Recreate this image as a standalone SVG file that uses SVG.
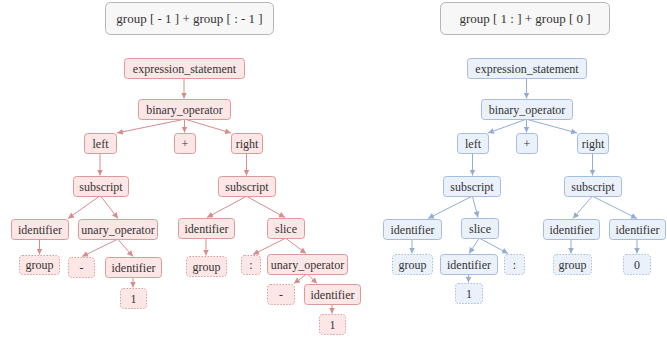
<svg xmlns="http://www.w3.org/2000/svg" width="667" height="340" viewBox="0 0 667 340">
<style>
text{font-family:"Liberation Serif","Times New Roman",serif;font-size:12px;fill:#333;text-anchor:middle;dominant-baseline:central}
.title text{font-size:13px}
.title rect{fill:#f7f7f7;stroke:#b5b5b5;stroke-width:1}
.r rect{fill:#fde6e6;stroke:#dc9a9a;stroke-width:1}
.b rect{fill:#eaf1fb;stroke:#a6bde0;stroke-width:1}
.leaf rect{stroke-dasharray:1.5 1.5}
.er line{stroke:#d98c8c;stroke-width:1;marker-end:url(#ar)}
.eb line{stroke:#92add8;stroke-width:1;marker-end:url(#ab)}
</style>
<defs>
<marker id="ar" viewBox="0 0 6 6" refX="6" refY="3" markerWidth="6" markerHeight="6" markerUnits="userSpaceOnUse" orient="auto"><path d="M0,0 L6,3 L0,6 z" fill="#d98c8c"/></marker>
<marker id="ab" viewBox="0 0 6 6" refX="6" refY="3" markerWidth="6" markerHeight="6" markerUnits="userSpaceOnUse" orient="auto"><path d="M0,0 L6,3 L0,6 z" fill="#92add8"/></marker>
</defs>
<rect width="667" height="340" fill="#fff"/>

<g id="title-left" class="title"><rect x="105.5" y="2.5" width="168" height="32" rx="5"/><text x="189.5" y="18.5">group [ - 1 ] + group [ : - 1 ]</text></g>
<g id="title-right" class="title"><rect x="440.5" y="2.5" width="169" height="32" rx="5"/><text x="525" y="18.5">group [ 1 : ] + group [ 0 ]</text></g>

<g id="edges-left" class="er">
<line x1="184" y1="78" x2="184" y2="98.5"/>
<line x1="183" y1="119.5" x2="117" y2="133"/>
<line x1="184.5" y1="119.5" x2="184.5" y2="132.5"/>
<line x1="186" y1="119.5" x2="231" y2="133"/>
<line x1="100" y1="153.5" x2="100" y2="175.5"/>
<line x1="246.5" y1="153.5" x2="246.5" y2="175.5"/>
<line x1="99" y1="196.5" x2="68" y2="218.5"/>
<line x1="101" y1="196.5" x2="118" y2="218.5"/>
<line x1="39.5" y1="239.5" x2="39.5" y2="254.5"/>
<line x1="117" y1="239.5" x2="82" y2="256.5"/>
<line x1="118" y1="239.5" x2="133" y2="256.5"/>
<line x1="133" y1="277.5" x2="133" y2="287.5"/>
<line x1="246" y1="196.5" x2="207" y2="217.5"/>
<line x1="247" y1="196.5" x2="285" y2="217.5"/>
<line x1="206" y1="238.5" x2="206" y2="255.5"/>
<line x1="285" y1="238.5" x2="253" y2="254.5"/>
<line x1="286" y1="238.5" x2="306" y2="253.5"/>
<line x1="306" y1="274.5" x2="294" y2="283.5"/>
<line x1="308" y1="274.5" x2="317" y2="283.5"/>
<line x1="332" y1="304.5" x2="332" y2="313.5"/>
</g>

<g id="edges-right" class="eb">
<line x1="526.5" y1="78" x2="526.5" y2="98.5"/>
<line x1="525.5" y1="119.5" x2="488" y2="133"/>
<line x1="526.5" y1="119.5" x2="526.5" y2="132.5"/>
<line x1="527.5" y1="119.5" x2="577" y2="133"/>
<line x1="472.5" y1="153.5" x2="472.5" y2="175.5"/>
<line x1="592.5" y1="153.5" x2="592.5" y2="175.5"/>
<line x1="471.5" y1="196.5" x2="428" y2="218.5"/>
<line x1="472.5" y1="196.5" x2="478" y2="217.5"/>
<line x1="412" y1="239.5" x2="412" y2="253.5"/>
<line x1="479" y1="238.5" x2="469" y2="253.5"/>
<line x1="480" y1="238.5" x2="508" y2="253.5"/>
<line x1="468.5" y1="274.5" x2="468.5" y2="282.5"/>
<line x1="592" y1="196.5" x2="573" y2="218.5"/>
<line x1="593" y1="196.5" x2="637" y2="218.5"/>
<line x1="571" y1="239.5" x2="571" y2="253.5"/>
<line x1="637" y1="239.5" x2="637" y2="253.5"/>
</g>

<g id="L-expression_statement" class="r"><rect x="124.5" y="58.5" width="120" height="20" rx="3"/><text x="184.5" y="68.5">expression_statement</text></g>
<g id="L-binary_operator" class="r"><rect x="138.5" y="99.5" width="92" height="20" rx="3"/><text x="184.5" y="109.5">binary_operator</text></g>
<g id="L-left" class="r"><rect x="84.5" y="133.5" width="32" height="20" rx="3"/><text x="100.5" y="143.5">left</text></g>
<g id="L-plus" class="r"><rect x="174.5" y="133.5" width="21" height="20" rx="3"/><text x="185" y="143.5">+</text></g>
<g id="L-right" class="r"><rect x="231.5" y="133.5" width="31" height="20" rx="3"/><text x="247" y="143.5">right</text></g>
<g id="L-subscript1" class="r"><rect x="73.5" y="176.5" width="55" height="20" rx="3"/><text x="101" y="186.5">subscript</text></g>
<g id="L-subscript2" class="r"><rect x="218.5" y="176.5" width="57" height="20" rx="3"/><text x="247" y="186.5">subscript</text></g>
<g id="L-identifier1" class="r"><rect x="11.5" y="219.5" width="57" height="20" rx="3"/><text x="40" y="229.5">identifier</text></g>
<g id="L-unary_operator1" class="r"><rect x="78.5" y="219.5" width="79" height="20" rx="3"/><text x="118" y="229.5">unary_operator</text></g>
<g id="L-group1" class="r leaf"><rect x="19.5" y="255.5" width="40" height="19" rx="3"/><text x="39.5" y="265">group</text></g>
<g id="L-minus1" class="r leaf"><rect x="68.5" y="257.5" width="26" height="20" rx="3"/><text x="81.5" y="267.5">-</text></g>
<g id="L-identifier2" class="r"><rect x="105.5" y="257.5" width="56" height="20" rx="3"/><text x="133.5" y="267.5">identifier</text></g>
<g id="L-one1" class="r leaf"><rect x="120.5" y="288.5" width="26" height="20" rx="3"/><text x="133.5" y="298.5">1</text></g>
<g id="L-identifier3" class="r"><rect x="178.5" y="218.5" width="56" height="20" rx="3"/><text x="206.5" y="228.5">identifier</text></g>
<g id="L-slice" class="r"><rect x="267.5" y="218.5" width="37" height="20" rx="3"/><text x="286" y="228.5">slice</text></g>
<g id="L-group2" class="r leaf"><rect x="186.5" y="256.5" width="40" height="20" rx="3"/><text x="206.5" y="266.5">group</text></g>
<g id="L-colon" class="r leaf"><rect x="241.5" y="255.5" width="19" height="19" rx="3"/><text x="251" y="265">:</text></g>
<g id="L-unary_operator2" class="r"><rect x="267.5" y="254.5" width="80" height="20" rx="3"/><text x="307.5" y="264.5">unary_operator</text></g>
<g id="L-minus2" class="r leaf"><rect x="267.5" y="284.5" width="27" height="20" rx="3"/><text x="281" y="294.5">-</text></g>
<g id="L-identifier4" class="r"><rect x="304.5" y="284.5" width="56" height="20" rx="3"/><text x="332.5" y="294.5">identifier</text></g>
<g id="L-one2" class="r leaf"><rect x="319.5" y="314.5" width="26" height="20" rx="3"/><text x="332.5" y="324.5">1</text></g>

<g id="R-expression_statement" class="b"><rect x="467.5" y="58.5" width="119" height="20" rx="3"/><text x="527" y="68.5">expression_statement</text></g>
<g id="R-binary_operator" class="b"><rect x="481.5" y="99.5" width="91" height="20" rx="3"/><text x="527" y="109.5">binary_operator</text></g>
<g id="R-left" class="b"><rect x="457.5" y="133.5" width="31" height="20" rx="3"/><text x="473" y="143.5">left</text></g>
<g id="R-plus" class="b"><rect x="516.5" y="133.5" width="21" height="20" rx="3"/><text x="527" y="143.5">+</text></g>
<g id="R-right" class="b"><rect x="577.5" y="133.5" width="31" height="20" rx="3"/><text x="593" y="143.5">right</text></g>
<g id="R-subscript1" class="b"><rect x="443.5" y="176.5" width="57" height="20" rx="3"/><text x="472" y="186.5">subscript</text></g>
<g id="R-subscript2" class="b"><rect x="564.5" y="176.5" width="57" height="20" rx="3"/><text x="593" y="186.5">subscript</text></g>
<g id="R-identifier1" class="b"><rect x="383.5" y="219.5" width="58" height="20" rx="3"/><text x="412.5" y="229.5">identifier</text></g>
<g id="R-slice" class="b"><rect x="461.5" y="218.5" width="37" height="20" rx="3"/><text x="480" y="228.5">slice</text></g>
<g id="R-group1" class="b leaf"><rect x="392.5" y="254.5" width="40" height="20" rx="3"/><text x="412.5" y="264.5">group</text></g>
<g id="R-identifier2" class="b"><rect x="440.5" y="254.5" width="57" height="20" rx="3"/><text x="469" y="264.5">identifier</text></g>
<g id="R-colon" class="b leaf"><rect x="504.5" y="254.5" width="20" height="20" rx="3"/><text x="514.5" y="264.5">:</text></g>
<g id="R-one" class="b leaf"><rect x="455.5" y="283.5" width="27" height="20" rx="3"/><text x="469" y="293.5">1</text></g>
<g id="R-identifier3" class="b"><rect x="543.5" y="219.5" width="56" height="20" rx="3"/><text x="571.5" y="229.5">identifier</text></g>
<g id="R-identifier4" class="b"><rect x="609.5" y="219.5" width="56" height="20" rx="3"/><text x="637.5" y="229.5">identifier</text></g>
<g id="R-group2" class="b leaf"><rect x="553.5" y="254.5" width="38" height="20" rx="3"/><text x="572.5" y="264.5">group</text></g>
<g id="R-zero" class="b leaf"><rect x="623.5" y="254.5" width="27" height="20" rx="3"/><text x="637" y="264.5">0</text></g>
</svg>
